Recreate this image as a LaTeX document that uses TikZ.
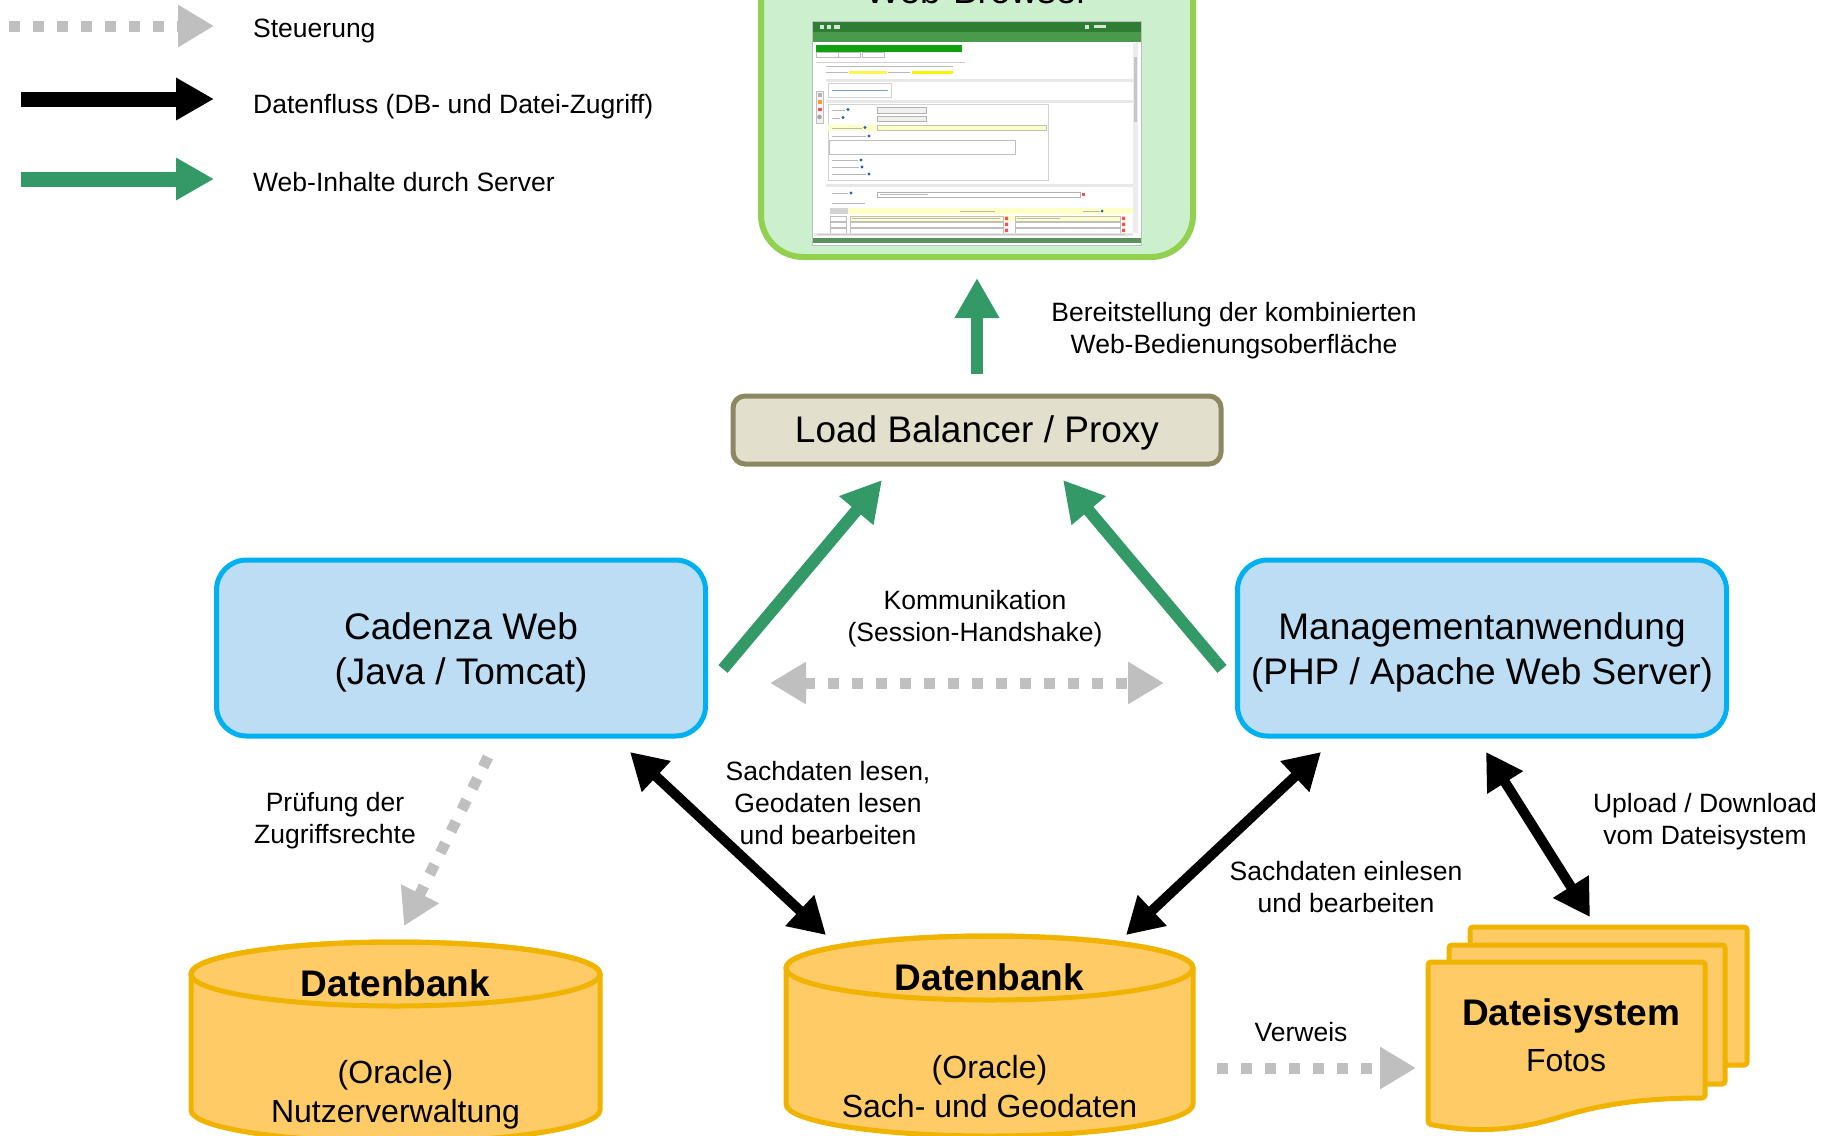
\documentclass[tikz,border=0pt]{standalone}
\usepackage{fontspec}
\setmainfont{Liberation Sans}
\usetikzlibrary{arrows.meta}
\definecolor{arrgreen}{HTML}{339966}
\definecolor{arrgray}{HTML}{BFBFBF}
\definecolor{boxblue}{HTML}{BDDDF4}
\definecolor{boxblueb}{HTML}{00B0F0}
\definecolor{lbfill}{HTML}{E2DFCC}
\definecolor{lbdraw}{HTML}{8C8962}
\definecolor{dbfill}{HTML}{FECB66}
\definecolor{dbdraw}{HTML}{F0B400}
\definecolor{wbfill}{HTML}{CCF0CE}
\definecolor{wbdraw}{HTML}{92D050}
\definecolor{hdrdark}{HTML}{2E7D32}
\definecolor{hdrlight}{HTML}{4A9A4E}
\definecolor{shotgreen}{HTML}{10A010}
\definecolor{shotyellow}{HTML}{FFFFC8}
\definecolor{infoblue}{HTML}{1F5FBF}
\tikzset{
  lbl/.style={font=\fontsize{26.5}{32}\selectfont, align=center, inner sep=0pt},
  legtxt/.style={font=\fontsize{26.5}{32}\selectfont, anchor=west, inner sep=0pt},
  srvbox/.style={draw=boxblueb, fill=boxblue, line width=5pt, rounded corners=30pt,
    minimum width=489pt, minimum height=176pt, align=center, font=\fontsize{37}{45}\selectfont},
  greenarr/.style={draw=arrgreen, line width=12pt, -{Triangle[length=40pt,width=42pt]}},
  blackarr/.style={draw=black, line width=10pt, {Triangle[length=36pt,width=40pt]}-{Triangle[length=36pt,width=40pt]}},
  grayarr/.style={draw=arrgray, line width=11pt, dash pattern=on 11pt off 13pt, -{Triangle[length=36pt,width=40pt]}},
  grayarrtwo/.style={draw=arrgray, line width=11pt, dash pattern=on 11pt off 13pt, {Triangle[length=36pt,width=40pt]}-{Triangle[length=36pt,width=40pt]}},
  dbshape/.style={fill=dbfill, draw=dbdraw, line width=5pt},
  dbtitle/.style={font=\bfseries\fontsize{37}{45}\selectfont, inner sep=0pt},
  dbsub/.style={font=\fontsize{32}{39}\selectfont, align=center, inner sep=0pt},
  shotline/.style={fill=gray!55},
}
\begin{document}
\begin{tikzpicture}[x=1pt,y=-1pt]
\useasboundingbox (0,0) rectangle (1833,1135);
\clip (0,0) rectangle (1833,1135);

% ---------------- legend
\coordinate (lg1a) at (9,26);   \coordinate (lg1b) at (214,26);
\coordinate (lg2a) at (21,99);  \coordinate (lg2b) at (214,99);
\coordinate (lg3a) at (21,179); \coordinate (lg3b) at (214,179);
\draw[grayarr] (lg1a) -- (lg1b);
\draw[draw=black, line width=15pt, -{Triangle[length=38pt,width=40pt]}] (lg2a) -- (lg2b);
\draw[draw=arrgreen, line width=15pt, -{Triangle[length=38pt,width=40pt]}] (lg3a) -- (lg3b);
\node[legtxt] (leg1) at (253,31) {Steuerung};
\node[legtxt] (leg2) at (253,107) {Datenfluss (DB- und Datei-Zugriff)};
\node[legtxt] (leg3) at (253,182) {Web-Inhalte durch Server};

% ---------------- web browser
\node[draw=wbdraw, fill=wbfill, line width=6pt, rounded corners=42pt,
      minimum width=432pt, minimum height=320pt] (browser) at (977,97) {};
\node[anchor=base, font=\fontsize{37}{45}\selectfont, inner sep=0pt] (browsertitle) at (977,4) {Web-Browser};

% screenshot mock-up
\begin{scope}
  \fill[white] (812,21) rectangle (1141,245);
  \fill[hdrdark] (812,21) rectangle (1141,32);
  \fill[hdrlight] (812,32) rectangle (1141,42);
  \fill[white!80!hdrdark] (820,25) rectangle (824,29);
  \fill[white!80!hdrdark] (827,25) rectangle (831,29);
  \fill[white!80!hdrdark] (834,25) rectangle (840,29);
  \fill[white!80!hdrdark] (1085,25) rectangle (1089,29);
  \fill[white!80!hdrdark] (1094,25) rectangle (1106,28);
  \fill[shotgreen] (816,45) rectangle (962,52);
  \draw[gray!50, line width=0.5pt] (816,52) rectangle (838,57) (838,52) rectangle (860,57) (862,52) rectangle (884,57);
  \draw[gray!35, line width=0.6pt] (816,62) -- (965,62);
  \fill[shotline] (826,66) rectangle (953,67.3);
  \fill[shotline] (826,72) rectangle (848,73.3);
  \fill[yellow!70] (849,71.2) rectangle (887,74.2);
  \fill[shotline] (888,72) rectangle (910,73.3);
  \fill[yellow] (912,71.2) rectangle (953,74.2);
  \fill[gray!18] (826,79) rectangle (1133,82);
  \draw[gray!35, line width=0.5pt] (828,83) rectangle (891,97);
  \fill[infoblue!60] (832,89.5) rectangle (888,90.7);
  \fill[gray!18] (826,100) rectangle (1133,103);
  \draw[gray!50, fill=gray!10, line width=0.5pt] (816,91) rectangle (823,123);
  \fill[gray!60] (817.5,93) rectangle (821.5,97);
  \fill[orange!80] (817.5,100) rectangle (821.5,104);
  \fill[red!70] (817.5,108) rectangle (821.5,111);
  \fill[gray!70] (819.5,117) circle (2.3);
  \draw[gray!35, line width=0.5pt] (828,104) rectangle (1048,180);
  \fill[shotline] (832,110) rectangle (845,111.2); \fill[infoblue] (848,109.5) circle (1.6);
  \draw[gray!60, fill=gray!12, line width=0.5pt] (877,107) rectangle (926,113);
  \fill[shotline] (832,118) rectangle (840,119.2); \fill[infoblue] (843,117.5) circle (1.6);
  \draw[gray!60, fill=gray!12, line width=0.5pt] (877,116) rectangle (926,121);
  \fill[shotyellow] (828,125) rectangle (1047,131);
  \draw[gray!50, line width=0.4pt] (877,125.5) rectangle (1046,130.5);
  \fill[shotline] (832,127.5) rectangle (862,128.7); \fill[infoblue] (865,127.5) circle (1.6);
  \fill[shotline] (832,136) rectangle (866,137.2); \fill[infoblue] (869,136) circle (1.6);
  \draw[gray!50, line width=0.5pt] (829,140) rectangle (1015,154);
  \fill[shotline] (832,160) rectangle (858,161.2); \fill[infoblue] (861,160) circle (1.6);
  \fill[shotline] (832,167) rectangle (859,168.2); \fill[infoblue] (862,167) circle (1.6);
  \fill[shotline] (832,174) rectangle (866,175.2); \fill[infoblue] (869,174) circle (1.6);
  \fill[gray!18] (826,184) rectangle (1133,187);
  \fill[shotline] (832,193) rectangle (848,194.2); \fill[infoblue] (851,193) circle (1.6);
  \draw[gray!60, line width=0.5pt] (877,192) rectangle (1080,197);
  \fill[shotline] (880,194) rectangle (928,195.2);
  \fill[red!70] (1082,192.5) rectangle (1085,196);
  \fill[shotline] (832,203) rectangle (865,204.2);
  \fill[shotyellow] (830,208) rectangle (1133,214);
  \fill[gray!35] (830,208) rectangle (848,214);
  \fill[shotline] (960,210.5) rectangle (995,211.5);
  \fill[shotline] (1083,210.5) rectangle (1100,211.5); \fill[infoblue] (1102,211) circle (1.5);
  \draw[gray!50, line width=0.4pt] (830,216) rectangle (846,221) (830,222) rectangle (846,227) (830,228) rectangle (846,233);
  \fill[shotyellow] (850,216) rectangle (1120,221);
  \draw[gray!50, line width=0.4pt] (850,216) rectangle (1003,221) (1015,216) rectangle (1120,221)
     (850,222) rectangle (1003,227) (1015,222) rectangle (1120,227)
     (850,228) rectangle (1003,233) (1015,228) rectangle (1120,233);
  \fill[shotline] (852,218) rectangle (1000,219.2);
  \fill[shotline] (1017,218) rectangle (1060,219.2);
  \fill[red!70] (1005,216.5) rectangle (1008,220) (1005,222.5) rectangle (1008,226) (1005,228.5) rectangle (1008,232);
  \fill[red!70] (1122,216.5) rectangle (1125,220) (1122,222.5) rectangle (1125,226) (1122,228.5) rectangle (1125,232);
  \fill[gray!20] (814,233) rectangle (1133,236);
  \fill[gray!45] (818,233.8) rectangle (1125,235.2);
  \fill[gray!15] (1133,43) rectangle (1138,233);
  \fill[gray!45] (1134,57) rectangle (1137,122);
  \fill[hdrlight!70!gray] (812,238) rectangle (1141,243);
  \draw[gray!50, line width=0.5pt] (812,21) rectangle (1141,245);
\end{scope}

% ---------------- load balancer
\node[draw=lbdraw, fill=lbfill, line width=5pt, rounded corners=12pt,
      minimum width=488pt, minimum height=68pt, font=\fontsize{37}{45}\selectfont] (lb) at (977,430) {};
\node[font=\fontsize{37}{45}\selectfont, inner sep=0pt] (lbtxt) at (977,433) {Load Balancer / Proxy};

% ---------------- servers
\node[srvbox] (cadenza) at (461,648) {};
\node[align=center, font=\fontsize{37}{45}\selectfont, inner sep=0pt] (cadtxt) at (461,652) {Cadenza Web\\(Java / Tomcat)};
\node[srvbox] (mgmt) at (1482,648) {};
\node[align=center, font=\fontsize{37}{45}\selectfont, inner sep=0pt] (mgmtxt) at (1482,652) {Managementanwendung\\(PHP / Apache Web Server)};

% ---------------- databases
\path[dbshape] (191,974) -- (191,1110) arc[start angle=180, end angle=360, x radius=204.5pt, y radius=32pt]
   -- (600,974) arc[start angle=0, end angle=180, x radius=204.5pt, y radius=32pt] -- cycle;
\draw[draw=dbdraw, line width=5pt] (395.5,974) ellipse [x radius=204.5pt, y radius=32pt];
\node[dbtitle] (db1) at (395.5,983) {Datenbank};
\node[dbsub] (db1sub) at (395.5,1095) {(Oracle)\\Nutzerverwaltung};

\path[dbshape] (786,968) -- (786,1104) arc[start angle=180, end angle=360, x radius=203.5pt, y radius=32pt]
   -- (1193,968) arc[start angle=0, end angle=180, x radius=203.5pt, y radius=32pt] -- cycle;
\draw[draw=dbdraw, line width=5pt] (989.5,968) ellipse [x radius=203.5pt, y radius=32pt];
\node[dbtitle] (db2) at (989.5,977) {Datenbank};
\node[dbsub] (db2sub) at (989.5,1087) {(Oracle)\\Sach- und Geodaten};

% ---------------- file system
\draw[dbshape, rounded corners=3pt] (1470,927) rectangle (1747,1065);
\draw[dbshape, rounded corners=3pt] (1449,945) rectangle (1725,1084);
\draw[dbshape, rounded corners=3pt] (1428,962) -- (1705,962) -- (1705,1098)
   .. controls (1640,1098) and (1600,1105) .. (1560,1117)
   .. controls (1520,1129) and (1480,1134) .. (1428,1124) -- cycle;
\node[dbtitle] (fs) at (1571,1016) {Dateisystem};
\node[dbsub] (fssub) at (1566,1061) {Fotos};

% ---------------- labels
\node[lbl] (lblweb) at (1234,331) {Bereitstellung der kombinierten\\Web-Bedienungsoberfläche};
\node[lbl] (lblkomm) at (975,619) {Kommunikation\\(Session-Handshake)};
\node[lbl] (lblpruef) at (335,821) {Prüfung der\\Zugriffsrechte};
\node[lbl] (lblsach) at (828,803) {Sachdaten lesen,\\Geodaten lesen\\und bearbeiten};
\node[lbl] (lblein) at (1346,887) {Sachdaten einlesen\\und bearbeiten};
\node[lbl] (lblup) at (1705,822) {Upload / Download\\vom Dateisystem};
\node[lbl] (lblverw) at (1301,1032) {Verweis};

% ---------------- connectors
\coordinate (lbtop) at (977,374);   \coordinate (brbot) at (977,278);
\coordinate (cadout) at (723,669);  \coordinate (lbinl) at (882,480);
\coordinate (mgmout) at (1222,669); \coordinate (lbinr) at (1063,480);
\coordinate (kommL) at (770,683);   \coordinate (kommR) at (1164,683);
\coordinate (cadbot) at (630,752);  \coordinate (db2l) at (826,935);
\coordinate (mgmbotl) at (1321,752); \coordinate (db2r) at (1126,935);
\coordinate (mgmbotr) at (1486,752); \coordinate (fstop) at (1590,917);
\coordinate (cadbotl) at (488,757); \coordinate (db1top) at (404,926);
\coordinate (verwA) at (1217,1068); \coordinate (verwB) at (1416,1068);

\draw[greenarr] (lbtop) -- (brbot);
\draw[greenarr] (cadout) -- (lbinl);
\draw[greenarr] (mgmout) -- (lbinr);
\draw[grayarrtwo] (kommL) -- (kommR);
\draw[blackarr] (cadbot) -- (db2l);
\draw[blackarr] (mgmbotl) -- (db2r);
\draw[blackarr] (mgmbotr) -- (fstop);
\draw[grayarr] (cadbotl) -- (db1top);
\draw[grayarr] (verwA) -- (verwB);
\end{tikzpicture}
\end{document}
